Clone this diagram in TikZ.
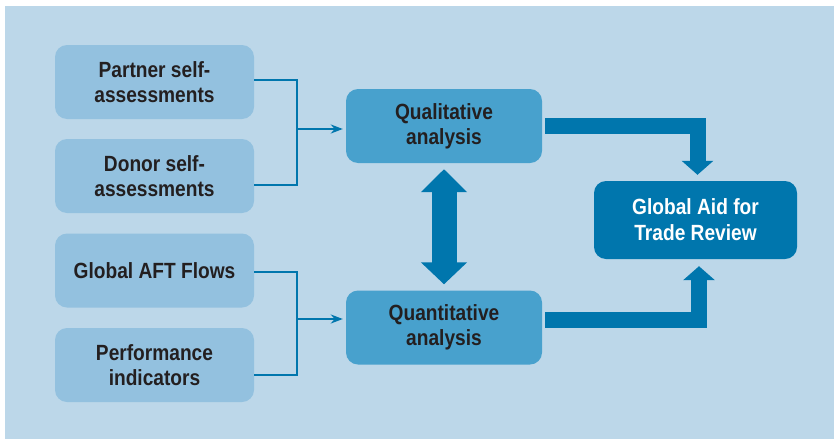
\documentclass[tikz,border=0pt]{standalone}
\usepackage{fontspec}
\newfontfamily\diagfont{Liberation Sans}[FakeStretch=0.87]
\usetikzlibrary{arrows.meta}
\definecolor{bgblue}{HTML}{BCD7E9}
\definecolor{srcblue}{HTML}{93C1DF}
\definecolor{midblue}{HTML}{48A1CD}
\definecolor{deepblue}{HTML}{0076AD}
\definecolor{inkgray}{HTML}{231F20}
\tikzset{
  srcbox/.style={rectangle, rounded corners=12pt, fill=srcblue, minimum width=199pt,
    minimum height=74pt, inner sep=0pt, align=center, text=inkgray,
    font=\diagfont\bfseries\fontsize{22}{25}\selectfont},
  anabox/.style={srcbox, fill=midblue, minimum width=196pt},
  goalbox/.style={srcbox, fill=deepblue, text=white, minimum width=203pt, minimum height=78pt,
    font=\diagfont\bfseries\fontsize{22}{26}\selectfont},
  link/.style={draw=deepblue, line width=2pt},
  bigflow/.style={draw=deepblue, line width=16pt, -{Triangle[width=31pt,length=14pt]}}
}
\begin{document}
\begin{tikzpicture}[x=1pt,y=-1pt]
    \useasboundingbox (0,0) rectangle (834,439);
    \fill[bgblue] (5,6) rectangle (834,439);
    \draw (154.5,82)  node [srcbox] (partner) {Partner self-\\assessments};
    \draw (154.5,176) node [srcbox] (donor) {Donor self-\\assessments};
    \draw (154.5,270.5) node [srcbox] (flows) {Global AFT Flows};
    \draw (154.5,365) node [srcbox] (perf) {Performance\\indicators};
    \draw (444,126)   node [anabox] (qual) {Qualitative\\analysis};
    \draw (444,327.5) node [anabox] (quant) {Quantitative\\analysis};
    \draw (695.5,220) node [goalbox] (review) {Global Aid for\\Trade Review};
    \coordinate (jqual) at (297,129);
    \coordinate (jquant) at (297,319);
    \draw [link] ([yshift=2pt]partner.east) -| (jqual);
    \draw [link] ([yshift=-9pt]donor.east) -| (jqual);
    \draw [link,-{Stealth[length=12pt,width=9pt]},shorten >=3pt] (jqual) -- (jqual -| qual.west);
    \draw [link] ([yshift=-1.5pt]flows.east) -| (jquant);
    \draw [link] ([yshift=-10pt]perf.east) -| (jquant);
    \draw [link,-{Stealth[length=12pt,width=9pt]},shorten >=3pt] (jquant) -- (jquant -| quant.west);
    \draw [draw=deepblue,line width=25pt,{Triangle[width=45pt,length=23pt]}-{Triangle[width=45pt,length=22pt]}]
        ([yshift=-6pt]qual.south) -- ([yshift=6pt]quant.north);
    \draw [bigflow] ([xshift=3pt]qual.east) -| ([shift={(2pt,6pt)}]review.north);
    \draw [bigflow] ([shift={(3pt,7.5pt)}]quant.east) -| ([shift={(3.5pt,-7pt)}]review.south);
\end{tikzpicture}
\end{document}
